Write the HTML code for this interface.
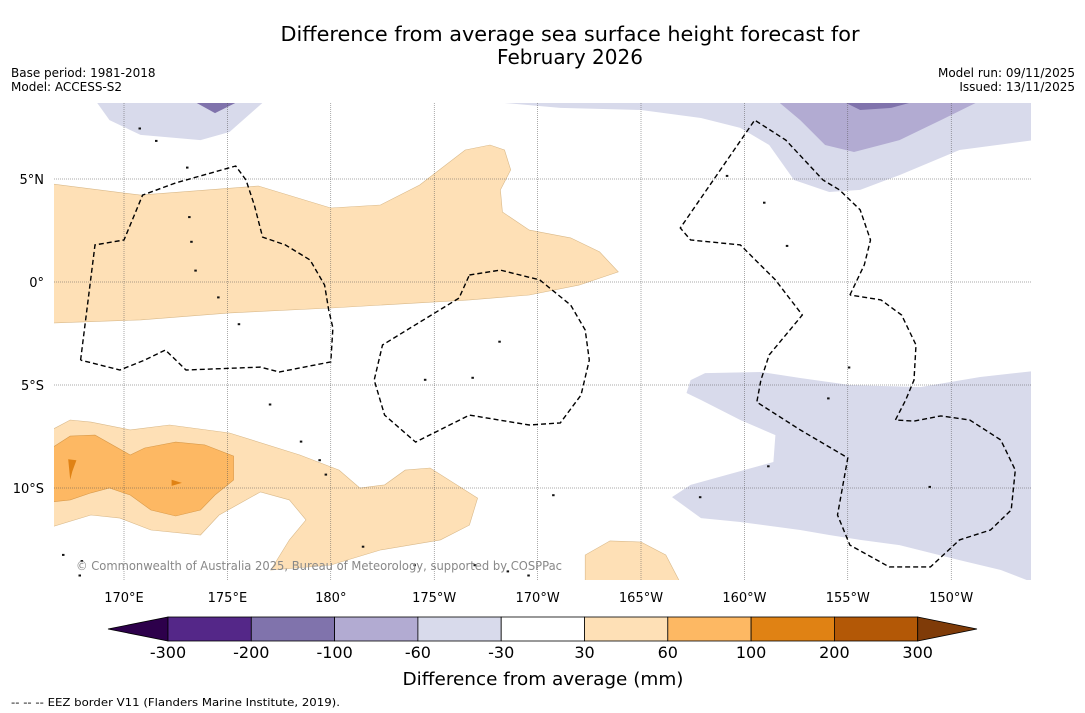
<!DOCTYPE html>
<html><head><meta charset="utf-8"><style>
body{margin:0;background:#fff;font-family:"DejaVu Sans",sans-serif}
svg{display:block}
</style></head><body>
<svg id="c" width="1085" height="713" xmlns="http://www.w3.org/2000/svg" font-family="DejaVu Sans, sans-serif">
<rect width="1085" height="713" fill="#fff"/>
<text x="570" y="41" font-size="20" text-anchor="middle" textLength="579" lengthAdjust="spacingAndGlyphs">Difference from average sea surface height forecast for</text>
<text x="570" y="64" font-size="20" text-anchor="middle">February 2026</text>
<text x="11" y="77" font-size="12">Base period: 1981-2018</text>
<text x="11" y="91" font-size="12">Model: ACCESS-S2</text>
<text x="1075" y="77" font-size="12" text-anchor="end">Model run: 09/11/2025</text>
<text x="1075" y="91" font-size="12" text-anchor="end">Issued: 13/11/2025</text>
<defs><clipPath id="mc"><rect x="54" y="103" width="977" height="477"/></clipPath></defs>
<g id="map" clip-path="url(#mc)"></g>
<g id="grid"></g>
<g id="eez" clip-path="url(#mc)"></g>
<g id="axes"></g>
<text x="76" y="570" font-size="12" fill="#888" textLength="486" lengthAdjust="spacingAndGlyphs">© Commonwealth of Australia 2025, Bureau of Meteorology, supported by COSPPac</text>
<g id="cbar"></g>
<text x="543" y="685" font-size="18" text-anchor="middle" textLength="281" lengthAdjust="spacingAndGlyphs">Difference from average (mm)</text>
<text x="11" y="706" font-size="11" textLength="329" lengthAdjust="spacingAndGlyphs">--  --  -- EEZ border V11 (Flanders Marine Institute, 2019).</text>
</svg>
<script>
const NS="http://www.w3.org/2000/svg";
const lonTicks=[170,175,180,185,190,195,200,205,210];
const lonLabels=["170°E","175°E","180°","175°W","170°W","165°W","160°W","155°W","150°W"];
const latTicks=[5,0,-5,-10];
const latLabels=["5°N","0°","5°S","10°S"];
const cbLevels=["-300","-200","-100","-60","-30","30","60","100","200","300"];
const cbColors=["#542788","#8073ac","#b2abd2","#d8daeb","#ffffff","#fee0b6","#fdb863","#e08214","#b35806"];
const cbLow="#2d004b", cbHigh="#7f3b08";
const purpleTL=[[168.7,8.7],[169.3,7.86],[170.8,7.14],[173.7,6.89],[175.1,7.28],[176.7,8.7]];
const purpleTLdark=[[173.5,8.7],[175.4,8.7],[174.4,8.2]];
const purpleTR=[[188.3,8.7],[191.1,8.45],[195,8.35],[197.9,7.96],[199.8,7.48],[201.2,6.65],[202.4,4.95],[204.1,4.37],[205.6,4.47],[207.5,5.19],[210.4,6.41],[214,6.89],[214,8.7]];
const purpleTRmid=[[201.7,8.7],[202.7,7.86],[203.9,6.65],[205.3,6.31],[207.5,6.89],[209.5,7.86],[211.2,8.7]];
const purpleTRdark=[[204.9,8.7],[205.6,8.35],[207.1,8.45],[208,8.7]];
const purpleBR=[[197.4,-4.76],[198.1,-4.42],[200.8,-4.37],[202.7,-4.66],[205.1,-5],[208.5,-5.1],[211.4,-4.61],[214,-4.32],[214,-14.6],[212.4,-13.98],[210.4,-13.5],[207.5,-12.77],[205.6,-12.52],[204.1,-12.28],[202.7,-12.04],[199.8,-11.65],[197.9,-11.46],[196.5,-10.44],[197.4,-9.85],[201.4,-8.74],[201.5,-7.43],[199.8,-6.7],[197.9,-5.73],[197.2,-5.39]];
const orangeN=[[166.5,4.76],[170.8,4.22],[176.5,4.66],[180,3.59],[182.4,3.74],[184.3,4.71],[186.5,6.41],[187.7,6.65],[188.4,6.41],[188.7,5.44],[188.2,4.47],[188.3,3.4],[189.6,2.52],[191.6,2.14],[193,1.46],[193.9,0.49],[192,-0.15],[189.6,-0.63],[186.7,-0.87],[180,-1.26],[175.1,-1.5],[170.8,-1.84],[166.5,-1.99]];
const orangeS=[[166.5,-7.18],[167.4,-6.7],[168.4,-6.8],[170.3,-7.18],[172.2,-6.94],[175.1,-7.33],[178.5,-8.4],[180.4,-9.13],[181.4,-10],[182.6,-9.85],[183.6,-9.13],[184.8,-9.03],[187.1,-10.49],[186.7,-11.8],[185.3,-12.52],[182.4,-13.01],[180,-13.74],[177.1,-13.98],[178,-12.52],[178.8,-11.55],[178,-10.58],[176.6,-10.19],[174.6,-11.31],[173.7,-12.28],[171.3,-12.04],[169.8,-11.46],[168.4,-11.31],[166.5,-11.89]];
const orangeSmid=[[166.5,-8.06],[167.4,-7.48],[168.6,-7.43],[170.3,-8.4],[171,-8.06],[172.5,-7.77],[173.9,-7.91],[175.3,-8.45],[175.3,-9.61],[174.4,-10.34],[173.7,-11.07],[172.5,-11.36],[171.3,-11.07],[170.3,-10.34],[169.3,-10],[168.4,-10.24],[167.4,-10.58],[166.5,-10.68]];
const orangeDark1=[[167.3,-8.6],[167.7,-8.65],[167.5,-9.2],[167.4,-9.6]];
const orangeDark2=[[172.3,-9.6],[172.8,-9.75],[172.3,-9.9]];
const orangeBot=[[192.3,-14.6],[192.3,-13.25],[193.5,-12.57],[195,-12.62],[196.2,-13.25],[196.9,-14.6]];
const eez1=[[167.9,-3.79],[168.6,1.8],[170,2.04],[170.9,4.22],[172.5,4.81],[175.4,5.63],[175.9,4.95],[176.3,3.74],[176.7,2.18],[177.8,1.8],[179,1.07],[179.7,-0.15],[179.9,-1.36],[180.1,-2.23],[180,-3.88],[177.5,-4.37],[176.6,-4.13],[173,-4.27],[172,-3.3],[171,-3.79],[169.8,-4.27],[167.9,-3.79]];
const eez2=[[186.7,0.34],[188.2,0.58],[190.1,0.1],[191.6,-1.12],[192.3,-2.33],[192.5,-3.79],[192.1,-5.49],[191.1,-6.84],[189.6,-6.94],[186.7,-6.46],[184.1,-7.77],[182.6,-6.46],[182.1,-4.76],[182.5,-3.06],[186.2,-0.78],[186.7,0.34]];
const eez3=[[205.1,-0.63],[205.8,0.83],[206.1,2.04],[205.6,3.5],[204.6,4.47],[203.8,4.95],[202.9,5.92],[202,6.89],[200.5,7.86],[196.9,2.62],[197.4,2.04],[199.8,1.8],[201.5,0.1],[202.8,-1.6],[201.2,-3.54],[200.8,-4.76],[200.6,-5.83],[202.7,-7.18],[205,-8.54],[204.5,-11.31],[205.1,-12.77],[207,-13.83],[209,-13.83],[210.4,-12.52],[211.9,-12.04],[212.9,-11.07],[213.1,-9.13],[212.4,-7.67],[210.9,-6.7],[209.5,-6.5],[208.2,-6.75],[207.3,-6.7],[207.8,-5.73],[208.2,-4.76],[208.3,-3.06],[207.6,-1.6],[206.6,-0.87],[205.1,-0.63]];
const islands=[[170.7,7.5],[171.5,6.9],[173,5.6],[173.1,3.2],[173.2,2],[173.4,0.6],[174.5,-0.7],[175.5,-2],[177,-5.9],[178.5,-7.7],[179.4,-8.6],[181.5,-12.8],[184,-13.7],[186.9,-13.7],[188.5,-14],[189.5,-14.2],[188.1,-2.85],[186.8,-4.6],[184.5,-4.7],[190.7,-10.3],[197.8,-10.4],[201.1,-8.9],[202,1.8],[200.9,3.9],[199.1,5.2],[205,-4.1],[204,-5.6],[208.9,-9.9],[167.8,-14.2],[167.9,-13.5],[167,-13.2],[179.7,-9.3]];
const x=lon=>124+(lon-170)*20.68;
const y=lat=>282-lat*20.6;
const pts=a=>a.map(p=>x(p[0]).toFixed(1)+","+y(p[1]).toFixed(1)).join(" ");
function mk(tag,attrs,parent){const e=document.createElementNS(NS,tag);for(const k in attrs)e.setAttribute(k,attrs[k]);parent.appendChild(e);return e;}
const map=document.getElementById("map");
function poly(a,fill,name,stroke){const e=mk("polygon",{points:pts(a),fill:fill,stroke:stroke||"none","stroke-width":"0.6"},map);

}
poly(purpleTL,"#d8daeb","contour-neg30-tl");
poly(purpleTLdark,"#8073ac","contour-neg100-tl");
poly(purpleTR,"#d8daeb","contour-neg30-tr");
poly(purpleTRmid,"#b2abd2","contour-neg60-tr");
poly(purpleTRdark,"#8073ac","contour-neg100-tr");
poly(purpleBR,"#d8daeb","contour-neg30-br");
poly(orangeN,"#fee0b6","contour-30-north","#d9b98a");
poly(orangeS,"#fee0b6","contour-30-south","#d9b98a");
poly(orangeSmid,"#fdb863","contour-60-south","#d99a4a");
poly(orangeDark1,"#e08214","contour-100-a");
poly(orangeDark2,"#e08214","contour-100-b");
poly(orangeBot,"#fee0b6","contour-30-bottom","#d9b98a");
islands.forEach(p=>{const e=mk("rect",{x:x(p[0]).toFixed(1),y:y(p[1]).toFixed(1),width:2.5,height:2,fill:"#111"},map);

});
const grid=document.getElementById("grid"), axes=document.getElementById("axes");
lonTicks.forEach((t,i)=>{const l=mk("line",{x1:x(t),x2:x(t),y1:103,y2:580,stroke:"#555","stroke-width":"0.5","stroke-dasharray":"1,1"},grid);


const tx=mk("text",{x:x(t),y:602,"font-size":13,"text-anchor":"middle"},axes);tx.textContent=lonLabels[i];

});
latTicks.forEach((t,i)=>{const l=mk("line",{x1:54,x2:1031,y1:y(t),y2:y(t),stroke:"#555","stroke-width":"0.5","stroke-dasharray":"1,1"},grid);


const tx=mk("text",{x:44,y:y(t)+5,"font-size":13,"text-anchor":"end"},axes);tx.textContent=latLabels[i];

});
const eez=document.getElementById("eez");
[eez1,eez2,eez3].forEach(a=>{const e=mk("polyline",{points:pts(a),fill:"none",stroke:"#000","stroke-width":"1.4","stroke-dasharray":"5,3"},eez);

});
const cb=document.getElementById("cbar");const cx0=168,cw=83.3,cy=617,ch=24;
const lt=mk("polygon",{points:`108,${cy+ch/2} ${cx0},${cy} ${cx0},${cy+ch}`,fill:cbLow,stroke:"#000","stroke-width":"0.8"},cb);


cbColors.forEach((c,i)=>{const r=mk("rect",{x:cx0+i*cw,y:cy,width:cw,height:ch,fill:c,stroke:"#000","stroke-width":"0.8"},cb);

});
const xe=cx0+cbColors.length*cw;
const ht=mk("polygon",{points:`${xe},${cy} 977,${cy+ch/2} ${xe},${cy+ch}`,fill:cbHigh,stroke:"#000","stroke-width":"0.8"},cb);


cbLevels.forEach((v,i)=>{const t=mk("text",{x:cx0+i*cw,y:658,"font-size":16,"text-anchor":"middle"},cb);t.textContent=v;

});
</script>
</body></html>
